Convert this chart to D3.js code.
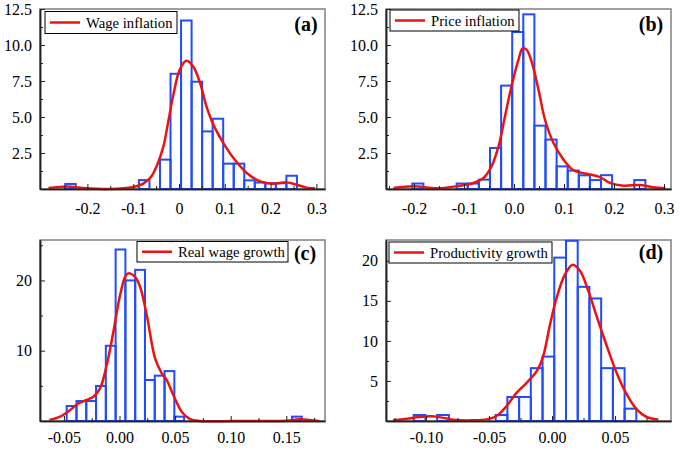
<!DOCTYPE html>
<html><head><meta charset="utf-8">
<script src="https://cdn.jsdelivr.net/npm/d3@7"></script>
<style>
body{margin:0;background:#fff}svg{display:block}
svg text{font-family:"Liberation Serif","Tinos","Times New Roman","DejaVu Serif",serif !important;}
</style>
</head><body>
<svg id="chart" width="685" height="450"></svg>
<script>
// ---------- DATA ----------
// (a) Wage inflation
const wageBinWidth = 0.0230;
const wageBinLeft = [-0.2485,-0.0875,-0.0415,-0.0185,0.0045,0.0275,0.0505,0.0735,0.0965,0.1195,0.1425,0.1655,0.1885,0.2115,0.2345];
const wageDensity = [0.35,0.62,2.04,8.0,11.7,7.45,4.0,4.88,1.76,1.76,0.6,0.45,0.4,0.4,0.92];
const wageKdeX = [-0.285,-0.245,-0.209,-0.15,-0.1,-0.078,-0.06,-0.049,-0.034,-0.024,-0.013,0.0017,0.016,0.031,0.046,0.06,0.075,0.097,0.119,0.148,0.177,0.206,0.235,0.257,0.279,0.297];
const wageKdeY = [0.07,0.18,0.07,0.0,0.14,0.37,0.88,1.57,2.96,4.58,6.44,8.29,8.9,8.5,7.36,5.74,4.47,3.19,2.15,1.11,0.53,0.37,0.46,0.3,0.09,0.05];
const wageTicks = [-0.2,-0.1,0,0.1,0.2,0.3];
const wageTickLabels = ["-0.2","-0.1","0","0.1","0.2","0.3"];

// (b) Price inflation
const priceBinWidth = 0.0222;
const priceBinLeft = [-0.2034,-0.1146,-0.0924,-0.0702,-0.048,-0.0258,-0.0036,0.0186,0.0408,0.063,0.0852,0.1074,0.1296,0.1518,0.174,0.2406];
const priceDensity = [0.38,0.38,0.38,0.65,2.85,7.18,10.9,12.13,4.4,3.43,1.57,1.28,0.95,0.62,0.96,0.62];
const priceKdeX = [-0.241,-0.201,-0.155,-0.115,-0.081,-0.061,-0.045,-0.031,-0.018,-0.005,0.009,0.017,0.025,0.035,0.049,0.062,0.079,0.099,0.119,0.145,0.172,0.192,0.219,0.253,0.279,0.303];
const priceKdeY = [0.07,0.19,0.05,0.19,0.42,0.76,1.57,2.96,5.05,7.13,8.98,9.75,9.68,8.87,6.9,4.81,3.19,2.04,1.3,1.06,0.83,0.42,0.23,0.28,0.12,0.05];
const priceTicks = [-0.2,-0.1,0,0.1,0.2,0.3];
const priceTickLabels = ["-0.2","-0.1","0.0","0.1","0.2","0.3"];

// (c) Real wage growth
const realBinWidth = 0.00881;
const realBinLeft = [-0.0475,-0.0387,-0.0299,-0.0211,-0.0123,-0.0035,0.0053,0.0141,0.0229,0.0317,0.0405,0.0493,0.1551];
const realDensity = [2.13,2.84,2.84,4.98,10.7,24.4,20.0,21.5,5.83,6.45,7.1,0.62,0.62];
const realKdeX = [-0.0631,-0.0534,-0.0444,-0.037,-0.0295,-0.0235,-0.0175,-0.0115,-0.0055,0.0005,0.0059,0.0095,0.014,0.0185,0.0245,0.032,0.038,0.0425,0.0484,0.0559,0.0634,0.0724,0.102,0.132,0.150,0.162,0.171,0.1797];
const realKdeY = [0.14,0.62,1.56,2.51,2.99,3.46,4.64,7.96,12.7,17.9,20.76,21.0,20.5,19.1,15.07,8.9,6.78,5.83,3.7,1.33,0.28,0,0,0,0.05,0.24,0.14,0];
const realTicks = [-0.05,0,0.05,0.10,0.15];
const realTickLabels = ["-0.05","0.00","0.05","0.10","0.15"];

// (d) Productivity growth
const prodBinWidth = 0.00928;
const prodBinLeft = [-0.1097,-0.0911,-0.0447,-0.0354,-0.0261,-0.0168,-0.0075,0.0018,0.0111,0.0204,0.0297,0.039,0.0483,0.0576];
const prodDensity = [0.75,0.75,0.75,3.0,3.0,6.6,8.04,20.4,22.5,16.75,15.3,6.6,6.6,1.54];
const prodKdeX = [-0.126,-0.115,-0.105,-0.096,-0.087,-0.076,-0.063,-0.052,-0.044,-0.036,-0.028,-0.020,-0.012,-0.007,-0.0015,0.0037,0.0103,0.0164,0.0222,0.0288,0.0354,0.0434,0.0513,0.0593,0.0672,0.0751,0.0844];
const prodKdeY = [0.08,0.29,0.5,0.58,0.42,0.12,0.08,0.2,0.62,1.87,3.54,4.79,6.25,8.1,12.1,15.4,18.3,19.5,18.75,16.25,13.1,9.4,6.0,3.33,1.46,0.5,0.17];
const prodTicks = [-0.10,-0.05,0,0.05];
const prodTickLabels = ["-0.10","-0.05","0.00","0.05"];

const seriesNames = ["Wage inflation","Price inflation","Real wage growth","Productivity growth"];
const panelTags = ["(a)","(b)","(c)","(d)"];
const yTicksAB = [2.5,5.0,7.5,10.0,12.5];
const yTickLabelsAB = ["2.5","5.0","7.5","10.0","12.5"];
const yTicksC = [10,20];
const yTicksD = [5,10,15,20];

// ---------- LAYOUT ----------
const BLUE = "#1f4cff", RED = "#ee1111";
const FONT = "Liberation Serif";
const svg = d3.select("#chart");

const panels = [
  {name:seriesNames[0], tag:panelTags[0], binW:wageBinWidth, binL:wageBinLeft, dens:wageDensity, kx:wageKdeX, ky:wageKdeY,
   xd:[-0.3035,0.3188], xr:[40,325], yd:[0,12.5], yr:[189,9],
   xt:wageTicks, xl:wageTickLabels, xminor:d3.range(-0.25,0.32,0.1),
   yt:yTicksAB, yl:yTickLabelsAB, yminor:d3.range(1.25,12.5,2.5), pad:14,
   leg:{x:45,y:11.5,w:132,h:22}, tagPos:[306,31]},
  {name:seriesNames[1], tag:panelTags[1], binW:priceBinWidth, binL:priceBinLeft, dens:priceDensity, kx:priceKdeX, ky:priceKdeY,
   xd:[-0.256,0.314], xr:[386,671], yd:[0,12.5], yr:[189,9],
   xt:priceTicks, xl:priceTickLabels, xminor:d3.range(-0.25,0.3,0.1),
   yt:yTicksAB, yl:yTickLabelsAB, yminor:d3.range(1.25,12.5,2.5), pad:14,
   leg:{x:390,y:10,w:129,h:21}, tagPos:[651,31]},
  {name:seriesNames[2], tag:panelTags[2], binW:realBinWidth, binL:realBinLeft, dens:realDensity, kx:realKdeX, ky:realKdeY,
   xd:[-0.0715,0.1848], xr:[40,325], yd:[0,25.75], yr:[421,240],
   xt:realTicks, xl:realTickLabels, xminor:[-0.025,0.025,0.075,0.125,0.175],
   yt:yTicksC, yl:yTicksC.map(String), yminor:[5,15,25], pad:11,
   leg:{x:137,y:241.5,w:151,h:20.5}, tagPos:[305,260]},
  {name:seriesNames[3], tag:panelTags[3], binW:prodBinWidth, binL:prodBinLeft, dens:prodDensity, kx:prodKdeX, ky:prodKdeY,
   xd:[-0.1317,0.0944], xr:[386,671], yd:[0,22.6], yr:[421,240],
   xt:prodTicks, xl:prodTickLabels, xminor:[-0.125,-0.075,-0.025,0.025,0.075],
   yt:yTicksD, yl:yTicksD.map(String), yminor:[2.5,7.5,12.5,17.5], pad:11,
   leg:{x:389,y:242,w:163,h:21}, tagPos:[651,259]}
];

panels.forEach(p => {
  const x = d3.scaleLinear().domain(p.xd).range(p.xr);
  const y = d3.scaleLinear().domain(p.yd).range(p.yr);
  const g = svg.append("g");

  g.append("rect").attr("x",p.xr[0]).attr("y",p.yr[1]).attr("width",p.xr[1]-p.xr[0]).attr("height",p.yr[0]-p.yr[1])
    .attr("fill","none").attr("stroke","#808080").attr("stroke-width",1.5);

  g.selectAll("rect.bar").data(p.binL.map((l,i)=>({l, h:p.dens[i]}))).enter().append("rect")
    .attr("class","bar")
    .attr("x",d=>x(d.l)).attr("width",d=>x(d.l+p.binW)-x(d.l))
    .attr("y",d=>y(d.h)).attr("height",d=>y(0)-y(d.h))
    .attr("fill","none").attr("stroke",BLUE).attr("stroke-width",2);

  const line = d3.line().x(d=>x(d[0])).y(d=>y(d[1])).curve(d3.curveCatmullRom.alpha(0.5));
  g.append("path").datum(p.kx.map((v,i)=>[v,p.ky[i]])).attr("d",line)
    .attr("fill","none").attr("stroke",RED).attr("stroke-width",2.5);

  const xAxis = d3.axisBottom(x).tickValues(p.xt).tickFormat((d,i)=>p.xl[i]).tickSizeInner(-5).tickSizeOuter(0).tickPadding(p.pad);
  const xa = g.append("g").attr("transform",`translate(0,${p.yr[0]})`).call(xAxis);
  const xm = g.append("g").attr("transform",`translate(0,${p.yr[0]})`)
    .call(d3.axisBottom(x).tickValues(p.xminor).tickFormat("").tickSizeInner(-3).tickSizeOuter(0));
  const yAxis = d3.axisLeft(y).tickValues(p.yt).tickFormat((d,i)=>p.yl[i]).tickSizeInner(-5).tickSizeOuter(0).tickPadding(8);
  const ya = g.append("g").attr("transform",`translate(${p.xr[0]},0)`).call(yAxis);
  const ym = g.append("g").attr("transform",`translate(${p.xr[0]},0)`)
    .call(d3.axisLeft(y).tickValues(p.yminor).tickFormat("").tickSizeInner(-3).tickSizeOuter(0));
  [xa,xm,ya,ym].forEach(a=>{
    a.attr("font-family",FONT).attr("font-size",16);
    a.selectAll("path").attr("stroke","#222").attr("stroke-width",1.5);
    a.selectAll("line").attr("stroke","#222").attr("stroke-width",1);
    a.selectAll("text").attr("font-family",FONT).attr("font-size",16).attr("fill","#000");
  });

  const lg = g.append("g");
  lg.append("rect").attr("x",p.leg.x).attr("y",p.leg.y).attr("width",p.leg.w).attr("height",p.leg.h)
    .attr("fill","#fff").attr("stroke","#000").attr("stroke-width",1);
  const ly = p.leg.y + p.leg.h/2;
  lg.append("line").attr("x1",p.leg.x+5).attr("x2",p.leg.x+35).attr("y1",ly).attr("y2",ly)
    .attr("stroke",RED).attr("stroke-width",2.5);
  lg.append("text").attr("x",p.leg.x+41).attr("y",ly+5).text(p.name)
    .attr("font-family",FONT).attr("font-size",14.7).attr("fill","#000");

  g.append("text").attr("x",p.tagPos[0]).attr("y",p.tagPos[1]).attr("text-anchor","middle").text(p.tag)
    .attr("font-family",FONT).attr("font-size",20).attr("font-weight","bold").attr("fill","#000");
});
</script>
</body></html>
